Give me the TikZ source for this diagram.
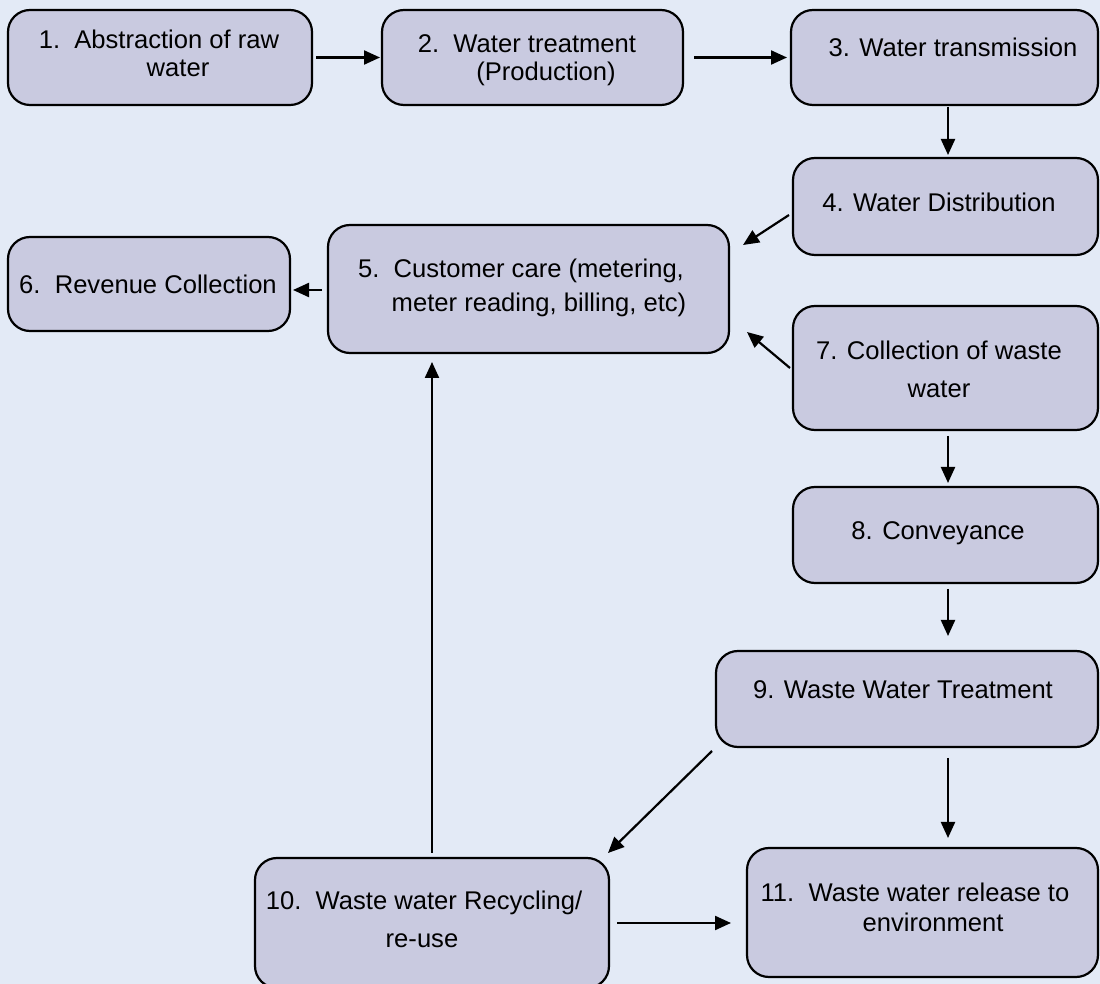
\documentclass[tikz,border=0pt]{standalone}
\usepackage{fontspec}
\setmainfont{Liberation Sans}
\usetikzlibrary{arrows.meta,calc}
\definecolor{bgcol}{RGB}{227,234,246}
\definecolor{boxcol}{RGB}{201,202,224}
\begin{document}
\begin{tikzpicture}[x=0.5pt,y=-0.5pt,
  box/.style={draw=black,line width=1.1pt,fill=boxcol,rounded corners=11pt,inner sep=0pt,outer sep=0pt},
  txt/.style={anchor=base,inner sep=0pt,font=\fontsize{12.8}{15}\selectfont},
  arr/.style={line width=1.1pt,-{Triangle[length=8pt,width=7pt]}}]
\fill[bgcol] (0,0) rectangle (1100,984);
\useasboundingbox (0,0) rectangle (1100,984);
% boxes
\node[box,minimum width=152pt,minimum height=47.5pt] (n1) at (160,57.5) {};
\node[box,minimum width=150.5pt,minimum height=47.5pt] (n2) at (532.5,57.5) {};
\node[box,minimum width=153.5pt,minimum height=47.5pt] (n3) at (944.5,57.5) {};
\node[box,minimum width=152.5pt,minimum height=48.5pt] (n4) at (945.5,206.5) {};
\node[box,minimum width=200.5pt,minimum height=64pt] (n5) at (528.5,289) {};
\node[box,minimum width=141pt,minimum height=47pt] (n6) at (149,284) {};
\node[box,minimum width=152.5pt,minimum height=62pt] (n7) at (945.5,368) {};
\node[box,minimum width=152.5pt,minimum height=48pt] (n8) at (945.5,535) {};
\node[box,minimum width=191pt,minimum height=48pt] (n9) at (907,699) {};
\node[box,minimum width=177pt,minimum height=65pt] (n10) at (432,923) {};
\node[box,minimum width=175.5pt,minimum height=64.5pt] (n11) at (922.5,912.5) {};
% texts
\node[txt] (t1a) at (159,49) {1.\ \ Abstraction of raw};
\node[txt] (t1b) at (178,77) {water};
\node[txt] (t2a) at (527,53) {2.\ \ Water treatment};
\node[txt] (t2b) at (546,81) {(Production)};
\node[txt] (t3) at (953,57) {3. Water transmission};
\node[txt] (t4) at (939,212) {4. Water Distribution};
\node[txt] (t5a) at (521,278) {5.\ \ Customer care (metering,};
\node[txt] (t5b) at (539,312) {meter reading, billing, etc)};
\node[txt] (t6) at (148,294) {6.\ \ Revenue Collection};
\node[txt] (t7a) at (939,360) {7. Collection of waste};
\node[txt] (t7b) at (939,398) {water};
\node[txt] (t8) at (938,540) {8. Conveyance};
\node[txt] (t9) at (903,699) {9. Waste Water Treatment};
\node[txt] (t10a) at (424,910) {10.\ \ Waste water Recycling/};
\node[txt] (t10b) at (422,948) {re-use};
\node[txt] (t11a) at (915,901) {11.\ \ Waste water release to};
\node[txt] (t11b) at (933,931) {environment};
% connectors
\draw[arr,shorten <=2pt,shorten >=1pt] (n1.east) -- (n2.west);
\draw[arr,shorten <=5.5pt,shorten >=2pt] (n2.east) -- (n3.west);
\draw[arr,shorten <=1pt,shorten >=1.5pt] ([xshift=1.75pt]n3.south) -- ([xshift=1.75pt]n3.south |- n4.north);
\draw[arr] ([xshift=-2pt,yshift=-4.25pt]n4.west) -- ([xshift=7pt,yshift=22pt]n5.east);
\draw[arr,shorten >=1.5pt] ([xshift=-3pt,yshift=-0.5pt]n5.west) -- ([yshift=-0.5pt]n6.east |- n5.west);
\draw[arr] ([xshift=-1.5pt]n7.west) -- ([xshift=9pt,yshift=-21.5pt]n5.east);
\draw[arr,shorten <=3pt,shorten >=2pt] ([xshift=1.25pt]n7.south) -- ([xshift=1.25pt]n8.north);
\draw[arr,shorten <=3pt,shorten >=7.5pt] ([xshift=1.25pt]n8.south) -- ([xshift=1.25pt]n8.south |- n9.north);
\draw[arr] ([xshift=-2pt,yshift=-2pt]n9.south west) -- ([xshift=-0.5pt,yshift=2.5pt]n10.north east);
\draw[arr,shorten <=5.5pt,shorten >=5pt] ([xshift=20.5pt]n9.south) -- ([xshift=20.5pt]n9.south |- n11.north);
\draw[arr,shorten <=4pt,shorten >=8pt] (n10.east) -- (n10.east -| n11.west);
\draw[arr,shorten <=2.5pt,shorten >=4.5pt] (n10.north) -- (n10.north |- n5.south);
\end{tikzpicture}
\end{document}
